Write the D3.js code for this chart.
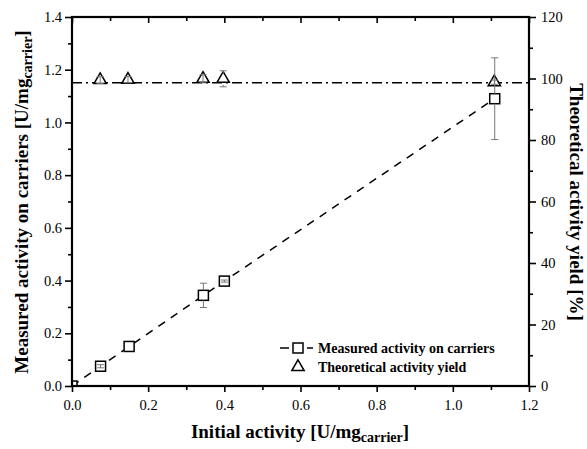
<!DOCTYPE html>
<html>
<head>
<meta charset="utf-8">
<script src="https://cdn.jsdelivr.net/npm/d3@7"></script>
<style>
  body { margin: 0; background: #fff; }
  svg, svg text { font-family: "Liberation Serif", "Times New Roman", serif; }
  .tick text { font-size: 14.5px; fill: #000; }
  .axis path { display: none; }
  .axis line { stroke: #000; stroke-width: 1.6; }
  .title { font-size: 19px; font-weight: bold; }
  .legend text { font-size: 14px; font-weight: bold; }
</style>
</head>
<body>
<svg id="chart" width="587" height="449"></svg>
<script>
/*global d3*/

// measured activity on carriers (left axis)
var initialActivity = [0, 0.075, 0.15, 0.345, 0.40, 1.11];
var measuredActivity = [0, 0.075, 0.15, 0.344, 0.398, 1.09];
var measuredError = [0, 0.006, 0, 0.046, 0.004, 0.155];

// theoretical activity yield (right axis)
var yieldActivity = [0.074, 0.147, 0.344, 0.397, 1.109];
var yieldValues = [99.5, 99.6, 99.9, 99.9, 98.8];
var yieldError = [1.1, 1.0, 1.3, 2.6, 0.7];
var yieldMean = 98.6;

var xTicks = [0, 0.2, 0.4, 0.6, 0.8, 1.0, 1.2];
var xMinor = [0.1, 0.3, 0.5, 0.7, 0.9, 1.1];
var yLeftTicks = [0, 0.2, 0.4, 0.6, 0.8, 1.0, 1.2, 1.4];
var yLeftMinor = [0.1, 0.3, 0.5, 0.7, 0.9, 1.1, 1.3];
var yRightTicks = [0, 20, 40, 60, 80, 100, 120];
var yRightMinor = [10, 30, 50, 70, 90, 110];

var legendLabels = ["Measured activity on carriers", "Theoretical activity yield"];

var svg = d3.select("#chart");
var box = {left: 72, right: 529, top: 17, bottom: 386};

var x = d3.scaleLinear().domain([0, 1.2]).range([box.left, box.right]);
var y = d3.scaleLinear().domain([0, 1.4]).range([box.bottom, box.top]);
var y2 = d3.scaleLinear().domain([0, 120]).range([box.bottom, box.top]);

var squareSize = 10, triSize = 66;

svg.append("clipPath").attr("id", "plot")
  .append("rect")
    .attr("x", box.left).attr("y", box.top)
    .attr("width", box.right - box.left).attr("height", box.bottom - box.top);

var plot = svg.append("g").attr("clip-path", "url(#plot)");

// lines
plot.append("line")
    .attr("x1", x(0)).attr("x2", x(1.2))
    .attr("y1", y2(yieldMean)).attr("y2", y2(yieldMean))
    .attr("stroke", "#000").attr("stroke-width", 1.4)
    .attr("stroke-dasharray", "10,4,2,4");

plot.append("path")
    .datum(initialActivity.map(function (d, i) { return [d, measuredActivity[i]]; }))
    .attr("fill", "none").attr("stroke", "#000").attr("stroke-width", 1.5)
    .attr("stroke-dasharray", "8,7")
    .attr("d", d3.line().x(function (d) { return x(d[0]); }).y(function (d) { return y(d[1]); }));

// error bars, kept outside the marker unless the bar is smaller than it
var errorBar = function (g, cx, cy, lo, hi, half) {
  var segs = [];
  if (cy - hi > half) {
    segs.push([cy - half, hi], [cy + half, lo]);
  } else {
    segs.push([lo, hi]);
  }
  segs.forEach(function (s) {
    g.append("line").attr("x1", cx).attr("x2", cx).attr("y1", s[0]).attr("y2", s[1]);
  });
  [lo, hi].forEach(function (v) {
    g.append("line").attr("x1", cx - 3.5).attr("x2", cx + 3.5).attr("y1", v).attr("y2", v);
  });
};

// markers
plot.selectAll("rect.measured")
    .data(initialActivity)
  .enter().append("rect")
    .attr("class", "measured")
    .attr("x", function (d) { return x(d) - squareSize / 2; })
    .attr("y", function (d, i) { return y(measuredActivity[i]) - squareSize / 2; })
    .attr("width", squareSize).attr("height", squareSize)
    .attr("fill", "#fff").attr("stroke", "#000").attr("stroke-width", 1.5);

plot.selectAll("path.yield")
    .data(yieldActivity)
  .enter().append("path")
    .attr("class", "yield")
    .attr("transform", function (d, i) { return "translate(" + x(d) + "," + y2(yieldValues[i]) + ")"; })
    .attr("d", d3.symbol().type(d3.symbolTriangle).size(triSize))
    .attr("fill", "#fff").attr("stroke", "#000").attr("stroke-width", 1.5);

var bars = plot.append("g").attr("stroke", "#777").attr("stroke-width", 1);
initialActivity.forEach(function (d, i) {
  if (!measuredError[i]) { return; }
  errorBar(bars, x(d), y(measuredActivity[i]),
    y(measuredActivity[i] - measuredError[i]), y(measuredActivity[i] + measuredError[i]), squareSize / 2);
});
yieldActivity.forEach(function (d, i) {
  errorBar(bars, x(d), y2(yieldValues[i]),
    y2(yieldValues[i] - yieldError[i]), y2(yieldValues[i] + yieldError[i]), 6);
});

// axes
var addAxis = function (axis, ticks, minor, size, minorSize, tx, ty, pad, labels) {
  var g = svg.append("g").attr("class", "axis").attr("transform", "translate(" + tx + "," + ty + ")");
  g.call(axis.tickValues(ticks).tickSize(size).tickPadding(pad)
      .tickFormat(labels ? d3.format(labels) : function () { return ""; }));
  g.attr("font-family", null).attr("font-size", null);
  g.selectAll("text").style("font-family", "'Liberation Serif', 'Times New Roman', serif");
  svg.append("g").attr("class", "axis").attr("transform", "translate(" + tx + "," + ty + ")")
    .call(axis.tickValues(minor).tickSize(minorSize).tickFormat(function () { return ""; }));
  return g;
};

addAxis(d3.axisBottom(x), xTicks, xMinor, 6, 4, 0, box.bottom, 8, ".1f");
addAxis(d3.axisTop(x), xTicks, xMinor, -6, -4, 0, box.top, 3, null);
addAxis(d3.axisLeft(y), yLeftTicks, yLeftMinor, 7, 4, box.left, 0, 3, ".1f");
addAxis(d3.axisRight(y2), yRightTicks, yRightMinor, 7, 4, box.right, 0, 5, "d");

svg.append("rect")
    .attr("x", box.left).attr("y", box.top)
    .attr("width", box.right - box.left).attr("height", box.bottom - box.top)
    .attr("fill", "none").attr("stroke", "#000").attr("stroke-width", 2.2);

// titles
var subTitle = function (g, main, sub, end) {
  var t = g.append("text").attr("class", "title").attr("text-anchor", "middle");
  t.append("tspan").text(main);
  t.append("tspan").attr("dy", 4).attr("font-size", 14).text(sub);
  t.append("tspan").attr("dy", -4).text(end);
  return t;
};

subTitle(svg.append("g").attr("transform", "translate(300,438)"),
  "Initial activity [U/mg", "carrier", "]");
subTitle(svg.append("g").attr("transform", "translate(28,202) rotate(-90)"),
  "Measured activity on carriers [U/mg", "carrier", "]");
svg.append("text").attr("class", "title").attr("text-anchor", "middle")
    .attr("transform", "translate(570,202) rotate(90)")
    .text("Theoretical activity yield [%]");

// legend
var legend = svg.append("g").attr("class", "legend");
legend.selectAll("line")
    .data([[280, 289], [307, 313]])
  .enter().append("line")
    .attr("x1", function (d) { return d[0]; }).attr("x2", function (d) { return d[1]; })
    .attr("y1", 348).attr("y2", 348)
    .attr("stroke", "#000").attr("stroke-width", 1.5);
legend.append("rect").attr("x", 298 - squareSize / 2).attr("y", 348 - squareSize / 2)
    .attr("width", squareSize).attr("height", squareSize)
    .attr("fill", "#fff").attr("stroke", "#000").attr("stroke-width", 1.5);
legend.append("path").attr("transform", "translate(298,367)")
    .attr("d", d3.symbol().type(d3.symbolTriangle).size(triSize))
    .attr("fill", "#fff").attr("stroke", "#000").attr("stroke-width", 1.5);
legend.selectAll("text")
    .data(legendLabels)
  .enter().append("text")
    .attr("x", 318)
    .attr("y", function (d, i) { return 353 + i * 19; })
    .text(function (d) { return d; });
</script>
</body>
</html>
